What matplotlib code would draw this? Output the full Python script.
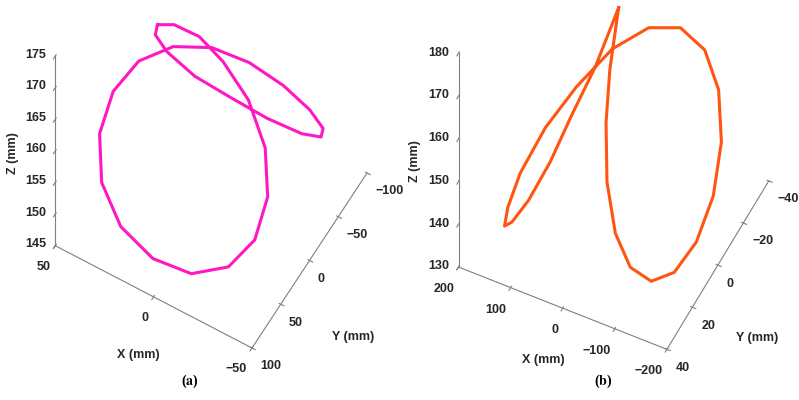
import numpy as np
import matplotlib
matplotlib.use('Agg')
import matplotlib.pyplot as plt

# trajectory (a), mm
xa = [19.4, 13.1, 2.8, -7.8, -19.7, -29.1, -33.1, -30.9, -22.6, -9.0, 6.5, 20.7, 30.7, 34.5, 32.0,
      24.2, 12.1, -2.6, -17.7, -32.1, -43.6, -49.8, -49.6, -42.1, -28.0, -12.7, 2.1, 14.1, 19.6, 19.4]
ya = [26.9, 19.5, 11.0, 5.7, 2.7, 5.5, 14.9, 29.8, 47.3, 65.2, 79.0, 86.4, 85.3, 75.9, 60.8,
      43.0, 24.6, 7.8, -5.7, -15.8, -22.4, -24.3, -21.5, -13.6, -1.7, 10.2, 21.4, 28.5, 30.0, 26.9]
za = [174.8, 174.8, 173.4, 170.4, 165.9, 160.2, 154.4, 149.3, 146.1, 145.3, 147.1, 150.9, 156.1, 161.9, 166.9,
      170.5, 172.2, 172.1, 170.3, 167.6, 164.7, 162.5, 161.5, 161.9, 163.7, 166.2, 168.7, 171.6, 173.6, 174.8]

# trajectory (b), mm
xb = [-3.4, -3.4, -9.1, -23.6, -47.7, -78.4, -114.0, -147.6, -175.1, -191.3, -191.9, -176.3, -146.0, -103.5,
      -54.3, -2.6, 44.8, 83.8, 112.7, 124.3, 125.4, 114.9, 93.9, 68.7, 46.2, 19.8, -3.4]
yb = [-2.5, 4.4, 9.7, 14.9, 18.2, 19.0, 17.1, 12.8, 6.7, 0.0, -6.1, -10.3, -11.8, -10.1,
      -5.3, 2.1, 11.0, 19.4, 27.2, 32.2, 34.4, 32.9, 28.4, 21.7, 14.4, 6.3, -2.5]
zb = [179.5, 168.4, 158.9, 148.3, 139.1, 133.0, 130.5, 132.1, 137.5, 145.8, 155.4, 164.8, 171.9, 175.9,
      175.9, 172.1, 165.3, 158.0, 149.9, 143.8, 140.4, 141.1, 145.0, 151.9, 160.1, 168.9, 179.5]

plt.rcParams['font.family'] = 'Liberation Sans'
plt.rcParams['font.weight'] = 'bold'
plt.rcParams['mathtext.fontset'] = 'stix'

txt = '#262626'
fig = plt.figure(figsize=(7.99, 4.0), dpi=100)

def style(ax):
    ax.set_proj_type('ortho')
    ax.grid(False)
    ax.patch.set_visible(False)
    for axis in (ax.xaxis, ax.yaxis, ax.zaxis):
        axis.pane.set_visible(False)
        axis.line.set_color('#808080')
        axis.line.set_linewidth(0.8)
    ax.zaxis.set_ticks_position('upper')
    ax.tick_params(axis='x', color='#808080', labelcolor=txt, labelsize=9, pad=-2)
    ax.tick_params(axis='y', color='#808080', labelcolor=txt, labelsize=9, pad=-2)
    ax.tick_params(axis='z', color='#808080', labelcolor=txt, labelsize=9, pad=1)
    # nudge tick labels the way matlab sets them
    for t in ax.xaxis.get_major_ticks():
        t.label1.set_horizontalalignment('right')
    for t in ax.yaxis.get_major_ticks():
        t.label1.set_horizontalalignment('left')
    for t in ax.zaxis.get_major_ticks():
        t.label1.set_verticalalignment('bottom')

# (a)
ax1 = fig.add_axes([0.02, 0.2258, 0.4756, 0.95], projection='3d')
ax1.plot(xa, ya, za, color='#ff17c3', lw=2.2)
ax1.set_xlim(-50, 50)
ax1.set_ylim(-100, 100)
ax1.set_zlim(145, 175)
ax1.set_xticks([-50, 0, 50])
ax1.set_yticks([-100, -50, 0, 50, 100])
ax1.set_zticks([145, 150, 155, 160, 165, 170, 175])
ax1.set_box_aspect((1, 1, 1.821), zoom=1.3425)
ax1.view_init(elev=62.82, azim=120.31)
style(ax1)

# (b)
ax2 = fig.add_axes([0.5238, 0.2195, 0.4756, 0.95], projection='3d')
ax2.plot(xb, yb, zb, color='#ff5511', lw=2.2)
ax2.set_xlim(-200, 200)
ax2.set_ylim(-40, 40)
ax2.set_zlim(130, 180)
ax2.set_xticks([-200, -100, 0, 100, 200])
ax2.set_yticks([-40, -20, 0, 20, 40])
ax2.set_zticks([130, 140, 150, 160, 170, 180])
ax2.set_box_aspect((1, 1, 1.565), zoom=1.25)
ax2.view_init(elev=53.92, azim=116.05)
style(ax2)

# axis titles, placed as in the figure
W, H = 799.0, 400.0
for (px, py, s, rot) in [(138, 355, 'X (mm)', 0), (353, 337, 'Y (mm)', 0), (13, 153, 'Z (mm)', 90),
                         (543, 360, 'X (mm)', 0), (757, 338, 'Y (mm)', 0), (415, 161, 'Z (mm)', 90)]:
    fig.text(px / W, 1 - py / H, s, ha='center', va='center', rotation=rot, fontsize=9, color=txt)

fig.text(190 / W, 1 - 381 / H, r'($\mathbf{a}$)', ha='center', va='center', fontsize=10, family='Liberation Serif')
fig.text(603 / W, 1 - 381 / H, r'($\mathbf{b}$)', ha='center', va='center', fontsize=10, family='Liberation Serif')

fig.savefig('out.png', dpi=100)
